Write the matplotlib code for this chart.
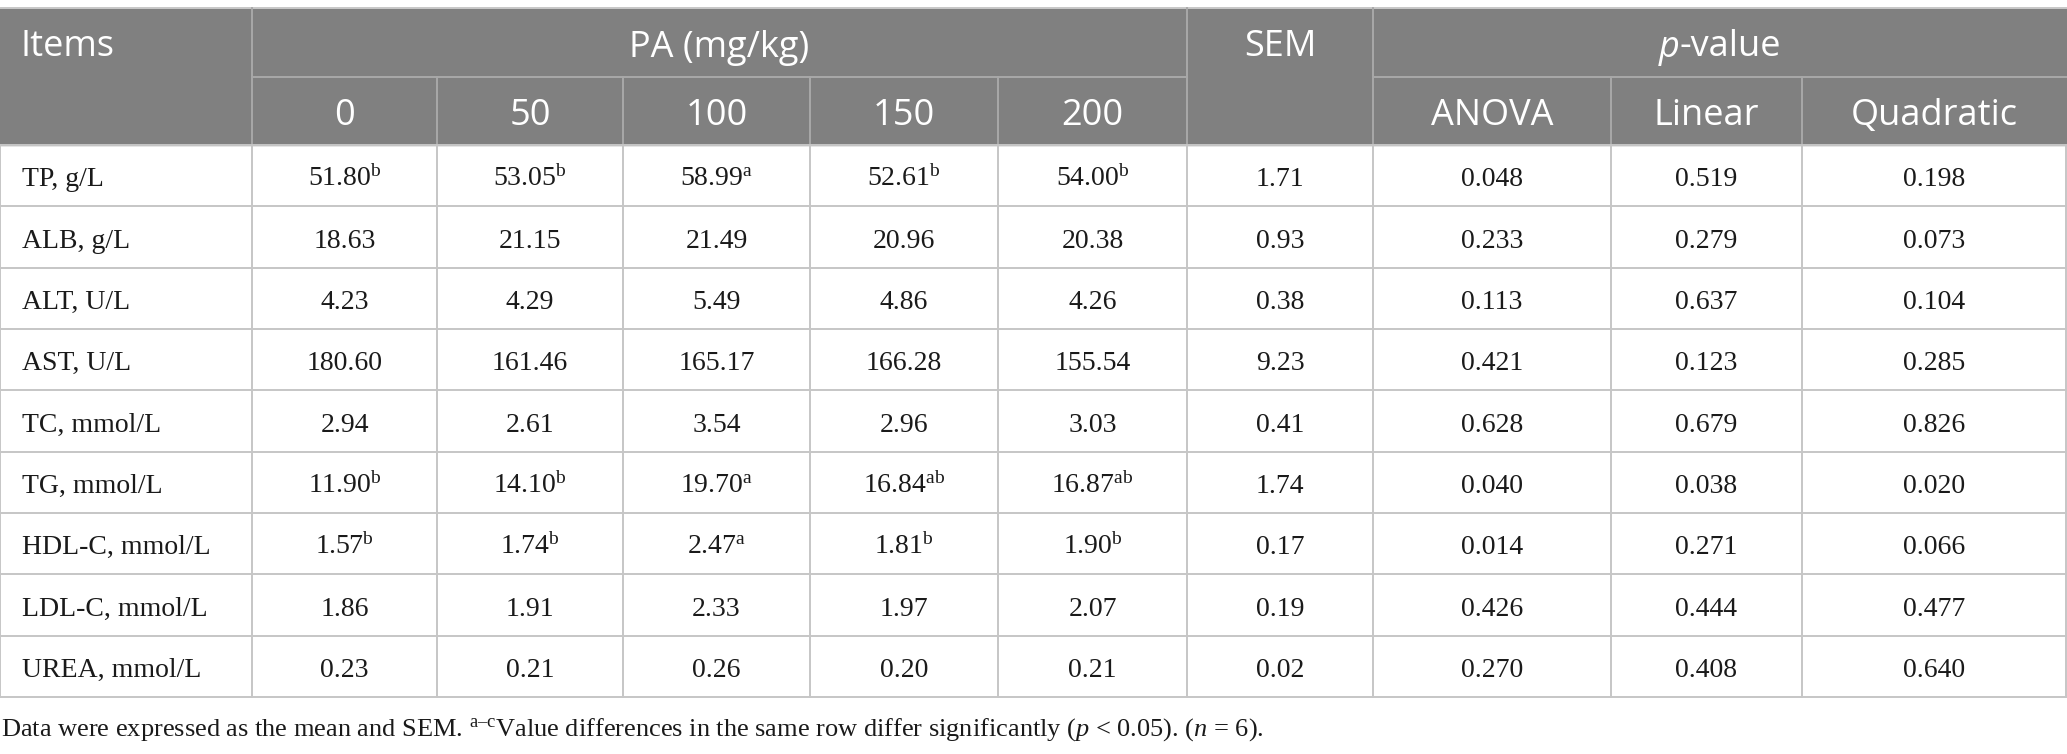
import matplotlib
matplotlib.use("Agg")
import matplotlib.pyplot as plt
from matplotlib.patches import Rectangle

plt.rcParams['mathtext.fontset'] = 'custom'
plt.rcParams['mathtext.rm'] = 'Liberation Serif'
plt.rcParams['mathtext.it'] = 'Liberation Serif:italic'

# Table content
items = ['TP, g/L', 'ALB, g/L', 'ALT, U/L', 'AST, U/L', 'TC, mmol/L',
         'TG, mmol/L', 'HDL-C, mmol/L', 'LDL-C, mmol/L', 'UREA, mmol/L']
doses = ['0', '50', '100', '150', '200']
pa_means = [
    [51.80, 53.05, 58.99, 52.61, 54.00],
    [18.63, 21.15, 21.49, 20.96, 20.38],
    [4.23, 4.29, 5.49, 4.86, 4.26],
    [180.60, 161.46, 165.17, 166.28, 155.54],
    [2.94, 2.61, 3.54, 2.96, 3.03],
    [11.90, 14.10, 19.70, 16.84, 16.87],
    [1.57, 1.74, 2.47, 1.81, 1.90],
    [1.86, 1.91, 2.33, 1.97, 2.07],
    [0.23, 0.21, 0.26, 0.20, 0.21],
]
letters = [
    ['b', 'b', 'a', 'b', 'b'],
    [''] * 5, [''] * 5, [''] * 5, [''] * 5,
    ['b', 'b', 'a', 'ab', 'ab'],
    ['b', 'b', 'a', 'b', 'b'],
    [''] * 5, [''] * 5,
]
sem = [1.71, 0.93, 0.38, 9.23, 0.41, 1.74, 0.17, 0.19, 0.02]
p_anova = [0.048, 0.233, 0.113, 0.421, 0.628, 0.040, 0.014, 0.426, 0.270]
p_linear = [0.519, 0.279, 0.637, 0.123, 0.679, 0.038, 0.271, 0.444, 0.408]
p_quad = [0.198, 0.073, 0.104, 0.285, 0.826, 0.020, 0.066, 0.477, 0.640]
p_labels = ['ANOVA', 'Linear', 'Quadratic']

W, H = 2067, 754
fig = plt.figure(figsize=(W / 100, H / 100), dpi=100)
ax = fig.add_axes([0, 0, 1, 1])
ax.set_xlim(0, W)
ax.set_ylim(H, 0)
ax.axis('off')

# layout (pixels)
col_x = [0, 252, 437, 623, 810, 998, 1187, 1373, 1611, 1802, 2066]
top, mid, head_bot = 8, 77, 145
row_h = (697 - head_bot) / len(items)
row_y = [head_bot + i * row_h for i in range(len(items) + 1)]

head_bg = '#808080'
head_line = '#a9a9a9'
body_line = '#c6c6c6'
txt = '#1a1a1a'
sans = 'Open Sans'
serif = 'Liberation Serif'
hsize, bsize = 26, 20

ax.add_patch(Rectangle((0, top), W, head_bot - top, color=head_bg, zorder=0))

# header lines
ax.plot([0, W], [top, top], color='#c8c8c8', lw=1.4)
ax.plot([col_x[1], col_x[6]], [mid, mid], color=head_line, lw=1.4)
ax.plot([col_x[7], W], [mid, mid], color=head_line, lw=1.4)
for x in [col_x[1], col_x[6], col_x[7]]:
    ax.plot([x, x], [top, head_bot], color=head_line, lw=1.4)
for x in col_x[2:6] + col_x[8:10]:
    ax.plot([x, x], [mid, head_bot], color=head_line, lw=1.4)

# body lines
for y in row_y:
    ax.plot([0, W], [y, y], color=body_line, lw=1.4)
for x in col_x:
    ax.plot([x, x], [head_bot, row_y[-1]], color=body_line, lw=1.4)

# header text
b1 = (top + mid) / 2 + 14
b2 = (mid + head_bot) / 2 + 14
ax.text(21, b1, 'Items', color='white', fontsize=hsize, family=sans, va='baseline')
ax.text((col_x[1] + col_x[6]) / 2, b1, 'PA (mg/kg)', color='white', fontsize=hsize,
        family=sans, ha='center', va='baseline')
ax.text((col_x[6] + col_x[7]) / 2, b1, 'SEM', color='white', fontsize=hsize,
        family=sans, ha='center', va='baseline')
for j, d in enumerate(doses):
    ax.text((col_x[1 + j] + col_x[2 + j]) / 2, b2, d, color='white', fontsize=hsize,
            family=sans, ha='center', va='baseline')
for j, lab in enumerate(p_labels):
    ax.text((col_x[7 + j] + col_x[8 + j]) / 2, b2, lab, color='white', fontsize=hsize,
            family=sans, ha='center', va='baseline')

tp = ax.text(0, b1, 'p', color='white', fontsize=hsize, family=sans, style='italic',
             va='baseline')
tv = ax.text(0, b1, '-value', color='white', fontsize=hsize, family=sans, va='baseline')
fig.canvas.draw()
wp = tp.get_window_extent().width
wv = tv.get_window_extent().width
cx = (col_x[7] + W) / 2
x0 = cx - (wp + wv) / 2
tp.set_x(x0)
tv.set_x(x0 + wp)

# body text
for i, it in enumerate(items):
    yb = (row_y[i] + row_y[i + 1]) / 2 + 10.5
    ax.text(22, yb, it, color=txt, fontsize=bsize, family=serif, va='baseline')
    for j in range(5):
        s = f'{pa_means[i][j]:.2f}'
        if letters[i][j]:
            s += r'$^{\mathrm{' + letters[i][j] + '}}$'
        ax.text((col_x[1 + j] + col_x[2 + j]) / 2, yb, s, color=txt, fontsize=bsize,
                family=serif, ha='center', va='baseline')
    vals = [f'{sem[i]:.2f}', f'{p_anova[i]:.3f}', f'{p_linear[i]:.3f}', f'{p_quad[i]:.3f}']
    for k, v in enumerate(vals):
        ax.text((col_x[6 + k] + col_x[7 + k]) / 2, yb, v, color=txt, fontsize=bsize,
                family=serif, ha='center', va='baseline')

note = ('Data were expressed as the mean and SEM. $^{\\mathrm{a\u2013c}}$Value differences '
        'in the same row differ significantly ($p$ < 0.05). ($n$ = 6).')
ax.text(1, 736, note, color=txt, fontsize=19, family=serif, va='baseline')

fig.savefig('out.png', dpi=100)
